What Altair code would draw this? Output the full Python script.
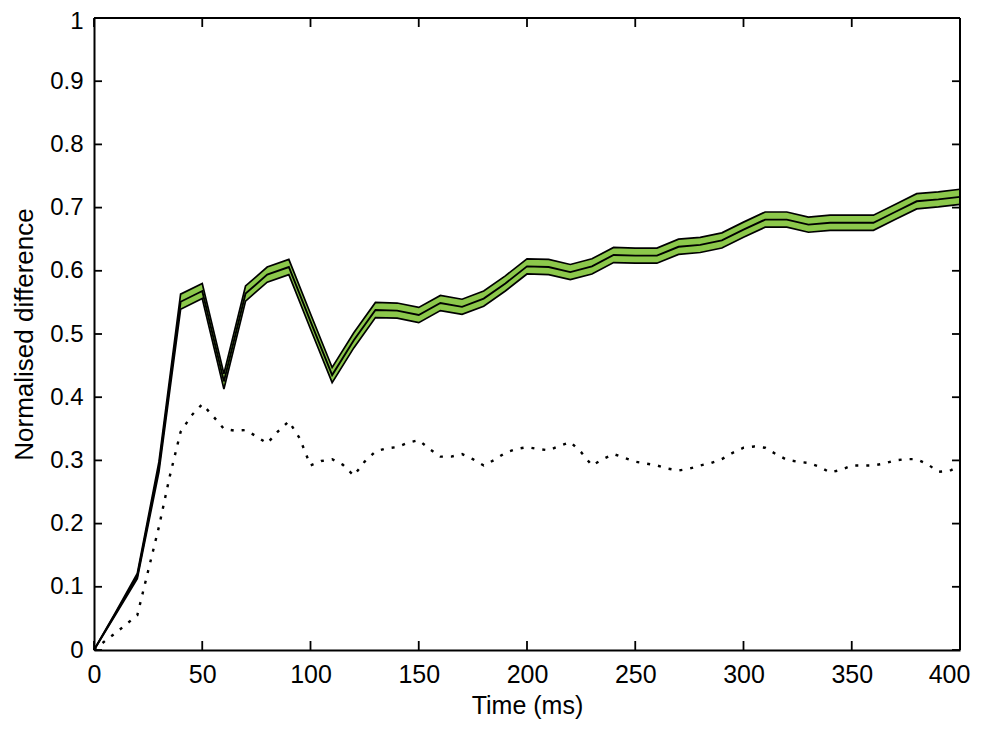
import altair as alt
import pandas as pd

# Solid line (mean) with green confidence band, sampled every 10 ms
t_solid = list(range(0, 401, 10))
mean_vals = [0.0, 0.058, 0.117, 0.29, 0.551, 0.568, 0.425, 0.564, 0.594, 0.606,
             0.52, 0.435, 0.49, 0.538, 0.537, 0.530, 0.549, 0.543, 0.556, 0.58,
             0.607, 0.606, 0.598, 0.607, 0.625, 0.624, 0.624, 0.638, 0.641, 0.648,
             0.665, 0.681, 0.681, 0.673, 0.676, 0.676, 0.676, 0.693, 0.710, 0.713,
             0.717]
half_width = [0.0, 0.002, 0.004, 0.008] + [0.012] * 37

# Dotted line, read every 5 ms
t_dot = list(range(0, 401, 5))
dot_vals = [0.0, 0.014, 0.027, 0.041, 0.055, 0.125, 0.195, 0.275, 0.345, 0.371,
            0.389, 0.37, 0.35, 0.347, 0.348, 0.338, 0.327, 0.346, 0.362, 0.335,
            0.292, 0.299, 0.302, 0.293, 0.276, 0.298, 0.314, 0.319, 0.321, 0.328,
            0.332, 0.318, 0.306, 0.306, 0.31, 0.302, 0.292, 0.301, 0.312, 0.318,
            0.321, 0.318, 0.316, 0.323, 0.329, 0.313, 0.292, 0.302, 0.31, 0.304,
            0.298, 0.295, 0.292, 0.287, 0.284, 0.287, 0.292, 0.296, 0.302, 0.312,
            0.32, 0.322, 0.32, 0.31, 0.301, 0.298, 0.296, 0.29, 0.281, 0.285,
            0.292, 0.292, 0.292, 0.295, 0.3, 0.302, 0.302, 0.294, 0.282, 0.283,
            0.292]

x_ticks = [0, 50, 100, 150, 200, 250, 300, 350, 400]
y_ticks = [0, 0.1, 0.2, 0.3, 0.4, 0.5, 0.6, 0.7, 0.8, 0.9, 1.0]

W, H = 866, 632
FONT = "Liberation Sans"
GREEN = "#8cc84b"

solid = pd.DataFrame({
    "t": t_solid,
    "m": mean_vals,
    "lo": [m - h for m, h in zip(mean_vals, half_width)],
    "hi": [m + h for m, h in zip(mean_vals, half_width)],
})
dotted = pd.DataFrame({"t": t_dot, "v": dot_vals})
xt = pd.DataFrame({"t": x_ticks})
yt = pd.DataFrame({"v": y_ticks})

xscale = alt.Scale(domain=[0, 400], nice=False, zero=False)
yscale = alt.Scale(domain=[0, 1], nice=False, zero=False)

xaxis = alt.Axis(values=x_ticks, ticks=False, domain=True, domainColor="black",
                 domainWidth=2, grid=False,
                 labelFont=FONT, labelFontSize=25, labelColor="black",
                 labelPadding=12,
                 labelOffset={"condition": {"test": "datum.value >= 400", "value": -11},
                              "value": 0},
                 title="Time (ms)", titleFont=FONT,
                 titleFontSize=25, titleFontWeight="normal", titleColor="black",
                 titleX=W / 2, titleY=55, titleBaseline="middle", labelFlush=False)
yaxis = alt.Axis(values=y_ticks, ticks=False, domain=True, domainColor="black",
                 domainWidth=2, grid=False,
                 labelFont=FONT, labelFontSize=24, labelColor="black",
                 labelPadding=11,
                 labelOffset={"condition": {"test": "datum.value >= 1", "value": 3},
                              "value": 0},
                 title="Normalised difference", titleFont=FONT,
                 titleFontSize=26, titleFontWeight="normal", titleColor="black",
                 titleX=-70, titleY=H / 2, titleAngle=-90, titleBaseline="middle",
                 labelFlush=False, format="~g")

base = alt.Chart(solid)

band = base.mark_area(color=GREEN, opacity=1).encode(
    x=alt.X("t:Q", scale=xscale, axis=xaxis),
    y=alt.Y("lo:Q", scale=yscale, axis=yaxis),
    y2="hi:Q",
)
upper = base.mark_line(color="black", strokeWidth=1.7).encode(
    x=alt.X("t:Q", scale=xscale), y=alt.Y("hi:Q", scale=yscale))
lower = base.mark_line(color="black", strokeWidth=1.7).encode(
    x=alt.X("t:Q", scale=xscale), y=alt.Y("lo:Q", scale=yscale))
middle = base.mark_line(color="black", strokeWidth=1.9).encode(
    x=alt.X("t:Q", scale=xscale), y=alt.Y("m:Q", scale=yscale))

dots = alt.Chart(dotted).mark_line(color="black", strokeWidth=2.4,
                                   strokeDash=[3, 8]).encode(
    x=alt.X("t:Q", scale=xscale), y=alt.Y("v:Q", scale=yscale))

# inward ticks (MATLAB box style)
xb = alt.Chart(xt).mark_rule(color="black", strokeWidth=1.8).encode(
    x=alt.X("t:Q", scale=xscale), y=alt.value(H), y2=alt.value(H - 9))
xtop = alt.Chart(xt).mark_rule(color="black", strokeWidth=1.8).encode(
    x=alt.X("t:Q", scale=xscale), y=alt.value(0), y2=alt.value(9))
yl = alt.Chart(yt).mark_rule(color="black", strokeWidth=1.8).encode(
    y=alt.Y("v:Q", scale=yscale), x=alt.value(0), x2=alt.value(8))
yr = alt.Chart(yt).mark_rule(color="black", strokeWidth=1.8).encode(
    y=alt.Y("v:Q", scale=yscale), x=alt.value(W - 8), x2=alt.value(W))

# box frame: top and right edges
frame_top = alt.Chart(xt).mark_rule(color="black", strokeWidth=2).encode(
    x=alt.value(0), x2=alt.value(W), y=alt.value(0))
frame_right = alt.Chart(xt).mark_rule(color="black", strokeWidth=2).encode(
    x=alt.value(W), y=alt.value(0), y2=alt.value(H))

chart = alt.layer(band, upper, lower, middle, dots, xb, xtop, yl, yr,
                  frame_top, frame_right).properties(
    width=W, height=H, autosize="none",
    padding={"left": 86, "top": 10, "right": 13, "bottom": 71},
).configure_view(stroke=None).configure(background="white")

chart.save("out.html", embed_options={"renderer": "svg", "actions": False})
